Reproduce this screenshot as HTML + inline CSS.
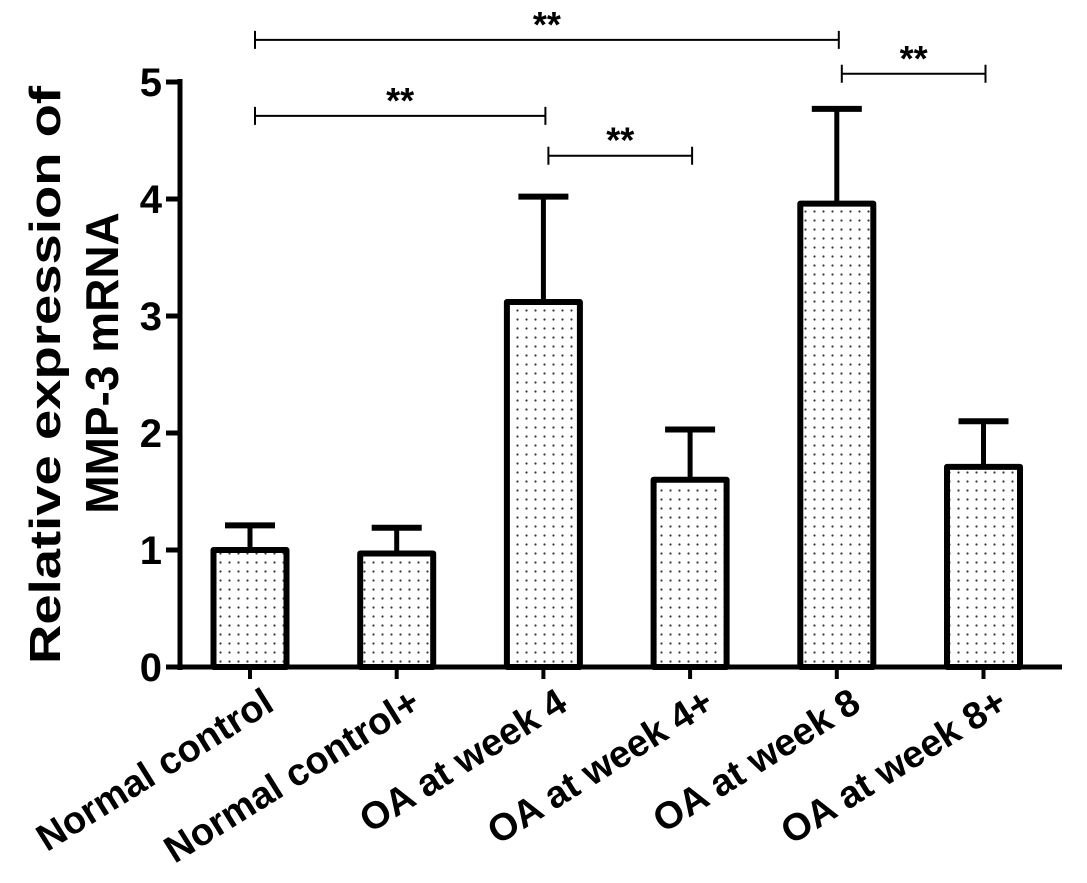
<!DOCTYPE html>
<html><head><meta charset="utf-8"><style>
html,body{margin:0;padding:0;background:#fff;}
svg{display:block;font-family:"Liberation Sans",Arial,sans-serif;}
</style></head><body>
<svg id="chart" width="1087" height="883" viewBox="0 0 1087 883">
<defs>
<pattern id="dots" width="9" height="9" patternUnits="userSpaceOnUse">
<rect width="9" height="9" fill="#fff"/>
<circle cx="4.5" cy="4.5" r="1.1" fill="#333"/>
</pattern>
</defs>
<g id="plot"></g>
<text transform="translate(60,375) rotate(-90)" text-anchor="middle" font-size="44" font-weight="bold" textLength="578" lengthAdjust="spacingAndGlyphs">Relative expression of</text>
<text transform="translate(118,363) rotate(-90)" text-anchor="middle" font-size="46" font-weight="bold">MMP-3 mRNA</text>
</svg>
<script>
const categories = ["Normal control","Normal control+","OA at week 4","OA at week 4+","OA at week 8","OA at week 8+"];
const means = [1.0, 0.97, 3.12, 1.6, 3.96, 1.71];
const errors = [0.21, 0.22, 0.9, 0.43, 0.81, 0.39];
const yTicks = [0,1,2,3,4,5];
const sigFrom = [0, 0, 2, 4];
const sigTo = [4, 2, 3, 5];
const sigY = [5.36, 4.71, 4.37, 5.07];
const sigLabels = ["**","**","**","**"];

const NS="http://www.w3.org/2000/svg";
const g=document.getElementById('plot');
const y0=667, pxPerUnit=117;
const yScale=v=>y0-v*pxPerUnit;
const xScale=i=>250+i*146.7;
const barW=73;
function mk(tag,attrs){const e=document.createElementNS(NS,tag);for(const k in attrs)e.setAttribute(k,attrs[k]);g.appendChild(e);return e;}

let ax=mk('line',{x1:180,y1:yScale(5)-3,x2:180,y2:y0+3,stroke:'#000','stroke-width':5});


let bx=mk('line',{x1:178,y1:y0,x2:1062,y2:y0,stroke:'#000','stroke-width':5});



yTicks.forEach(t=>{
  const y=yScale(t);
  const tk=mk('line',{x1:166,y1:y,x2:180,y2:y,stroke:'#000','stroke-width':5});
  
  
  const lb=mk('text',{x:162,y:y+14,'text-anchor':'end','font-size':40,'font-weight':'bold'});
  lb.textContent=t;
  
  
});

categories.forEach((c,i)=>{
  const cx=xScale(i), top=yScale(means[i]), et=yScale(means[i]+errors[i]);
  const eb=mk('line',{x1:cx,y1:et,x2:cx,y2:top,stroke:'#000','stroke-width':5});
  
  
  const cap=mk('line',{x1:cx-25,y1:et,x2:cx+25,y2:et,stroke:'#000','stroke-width':6});
  
  
  const r=mk('rect',{x:cx-barW/2,y:top,width:barW,height:y0-top,fill:'url(#dots)',stroke:'#000','stroke-width':6,'stroke-linejoin':'round'});
  
  
  const tk=mk('line',{x1:cx,y1:y0,x2:cx,y2:y0+12,stroke:'#000','stroke-width':4});
  
  
  const lb=mk('text',{transform:`translate(${cx+26},${y0+42}) rotate(-32)`,'text-anchor':'end','font-size':38,'font-weight':'bold'});
  lb.textContent=c;
  
  
});

sigFrom.forEach((f,k)=>{
  const x1=xScale(f)+5, x2=xScale(sigTo[k])+2, y=yScale(sigY[k]);
  const l=mk('path',{d:`M${x1},${y+9}V${y-9}M${x1},${y}H${x2}M${x2},${y-9}V${y+9}`,stroke:'#000','stroke-width':2,fill:'none'});
  
  
  const t=mk('text',{x:(x1+x2)/2,y:y-3,'text-anchor':'middle','font-size':36,'font-weight':'bold'});
  t.textContent=sigLabels[k];
  
  
});
</script>
</body></html>
